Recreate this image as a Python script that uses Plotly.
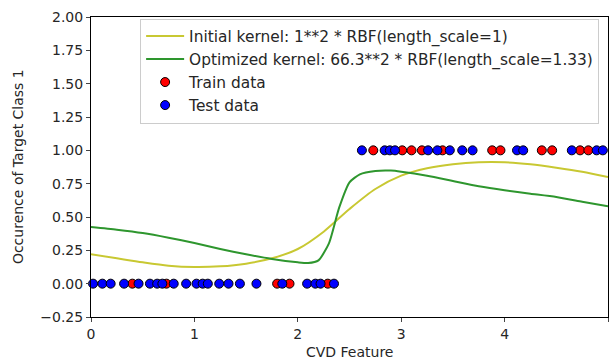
import plotly.graph_objects as go

# Curve samples
curve_x_init = [0, 0.25, 0.5, 0.75, 1.0, 1.25, 1.5, 1.75, 2.0, 2.25, 2.5, 2.75, 3.0, 3.25, 3.5, 3.75, 4.0, 4.25, 4.5, 4.75, 5.0]
curve_y_init = [0.22, 0.19, 0.16, 0.135, 0.125, 0.13, 0.15, 0.19, 0.26, 0.39, 0.56, 0.71, 0.81, 0.865, 0.895, 0.91, 0.91, 0.895, 0.87, 0.84, 0.80]

curve_x_opt = [0, 0.25, 0.5, 0.75, 1.0, 1.25, 1.5, 1.75, 2.0, 2.1, 2.2, 2.3, 2.4, 2.5, 2.6, 2.75, 2.9, 3.0, 3.25, 3.5, 3.75, 4.0, 4.25, 4.5, 4.75, 5.0]
curve_y_opt = [0.425, 0.405, 0.38, 0.345, 0.305, 0.26, 0.22, 0.185, 0.16, 0.155, 0.175, 0.30, 0.57, 0.76, 0.82, 0.845, 0.848, 0.84, 0.81, 0.77, 0.73, 0.70, 0.675, 0.65, 0.615, 0.58]

# Train data (red)
train_x = [0.40, 0.73, 1.80, 1.92, 2.29,
           2.73, 3.01, 3.10, 3.20, 3.40, 3.88, 3.96, 4.36, 4.46, 4.73, 4.81]
train_y = [0, 0, 0, 0, 0,
           1, 1, 1, 1, 1, 1, 1, 1, 1, 1, 1]

# Test data (blue)
test_x = [0.02, 0.11, 0.19, 0.32, 0.46, 0.57, 0.64, 0.69, 0.80, 0.92, 1.02, 1.08, 1.13, 1.24, 1.33, 1.44, 1.60, 1.85, 2.09, 2.17, 2.22, 2.35,
          2.62, 2.84, 2.89, 2.94, 3.26, 3.35, 3.47, 3.59, 3.69, 4.12, 4.18, 4.65, 4.89, 4.95]
test_y = [0] * 22 + [1] * 14

y_ticks = [-0.25, 0, 0.25, 0.5, 0.75, 1.0, 1.25, 1.5, 1.75, 2.0]
x_ticks = [0, 1, 2, 3, 4, 5]

FONT = "DejaVu Sans"
TXT = "#262626"

fig = go.Figure()
fig.add_trace(go.Scatter(x=curve_x_init, y=curve_y_init, mode="lines",
                         line=dict(color="#c8c832", width=2, shape="spline", smoothing=0.8),
                         name="Initial kernel: 1**2 * RBF(length_scale=1)"))
fig.add_trace(go.Scatter(x=curve_x_opt, y=curve_y_opt, mode="lines",
                         line=dict(color="#2e962e", width=2, shape="spline", smoothing=0.6),
                         name="Optimized kernel: 66.3**2 * RBF(length_scale=1.33)"))
fig.add_trace(go.Scatter(x=train_x, y=train_y, mode="markers",
                         marker=dict(color="red", size=9, line=dict(color="black", width=1)),
                         name="Train data", cliponaxis=False))
fig.add_trace(go.Scatter(x=test_x, y=test_y, mode="markers",
                         marker=dict(color="blue", size=9, line=dict(color="black", width=1)),
                         name="Test data", cliponaxis=False))

fig.update_layout(
    width=610, height=358,
    margin=dict(l=91, r=2, t=17, b=41),
    paper_bgcolor="white", plot_bgcolor="white",
    font=dict(family=FONT, size=14, color=TXT),
    showlegend=True,
    legend=dict(x=0.095, y=0.995, xanchor="left", yanchor="top",
                bgcolor="rgba(255,255,255,0.8)", bordercolor="#cccccc", borderwidth=1,
                font=dict(family=FONT, size=15.4), tracegroupgap=0, itemwidth=38),
    annotations=[
        dict(text="CVD Feature", xref="paper", yref="paper", x=0.5, y=-0.117,
             xanchor="center", yanchor="middle", showarrow=False,
             font=dict(family=FONT, size=14, color=TXT)),
        dict(text="Occurence of Target Class 1", xref="paper", yref="paper", x=-0.141, y=0.5,
             xanchor="center", yanchor="middle", textangle=-90, showarrow=False,
             font=dict(family=FONT, size=14, color=TXT)),
    ],
)
fig.update_xaxes(range=[0, 5], tickvals=x_ticks, ticks="outside", ticklen=4,
                 showline=True, linecolor="black", linewidth=1, mirror=True,
                 showgrid=False, zeroline=False, automargin=False,
                 tickfont=dict(size=14))
fig.update_yaxes(range=[-0.25, 2.0], tickvals=y_ticks, tickformat=".2f", ticks="outside", ticklen=4,
                 showline=True, linecolor="black", linewidth=1, mirror=True,
                 showgrid=False, zeroline=False, automargin=False,
                 tickfont=dict(size=14))

fig.write_html("out.html", config={"displayModeBar": False},
               post_script="document.body.style.margin='0';")
